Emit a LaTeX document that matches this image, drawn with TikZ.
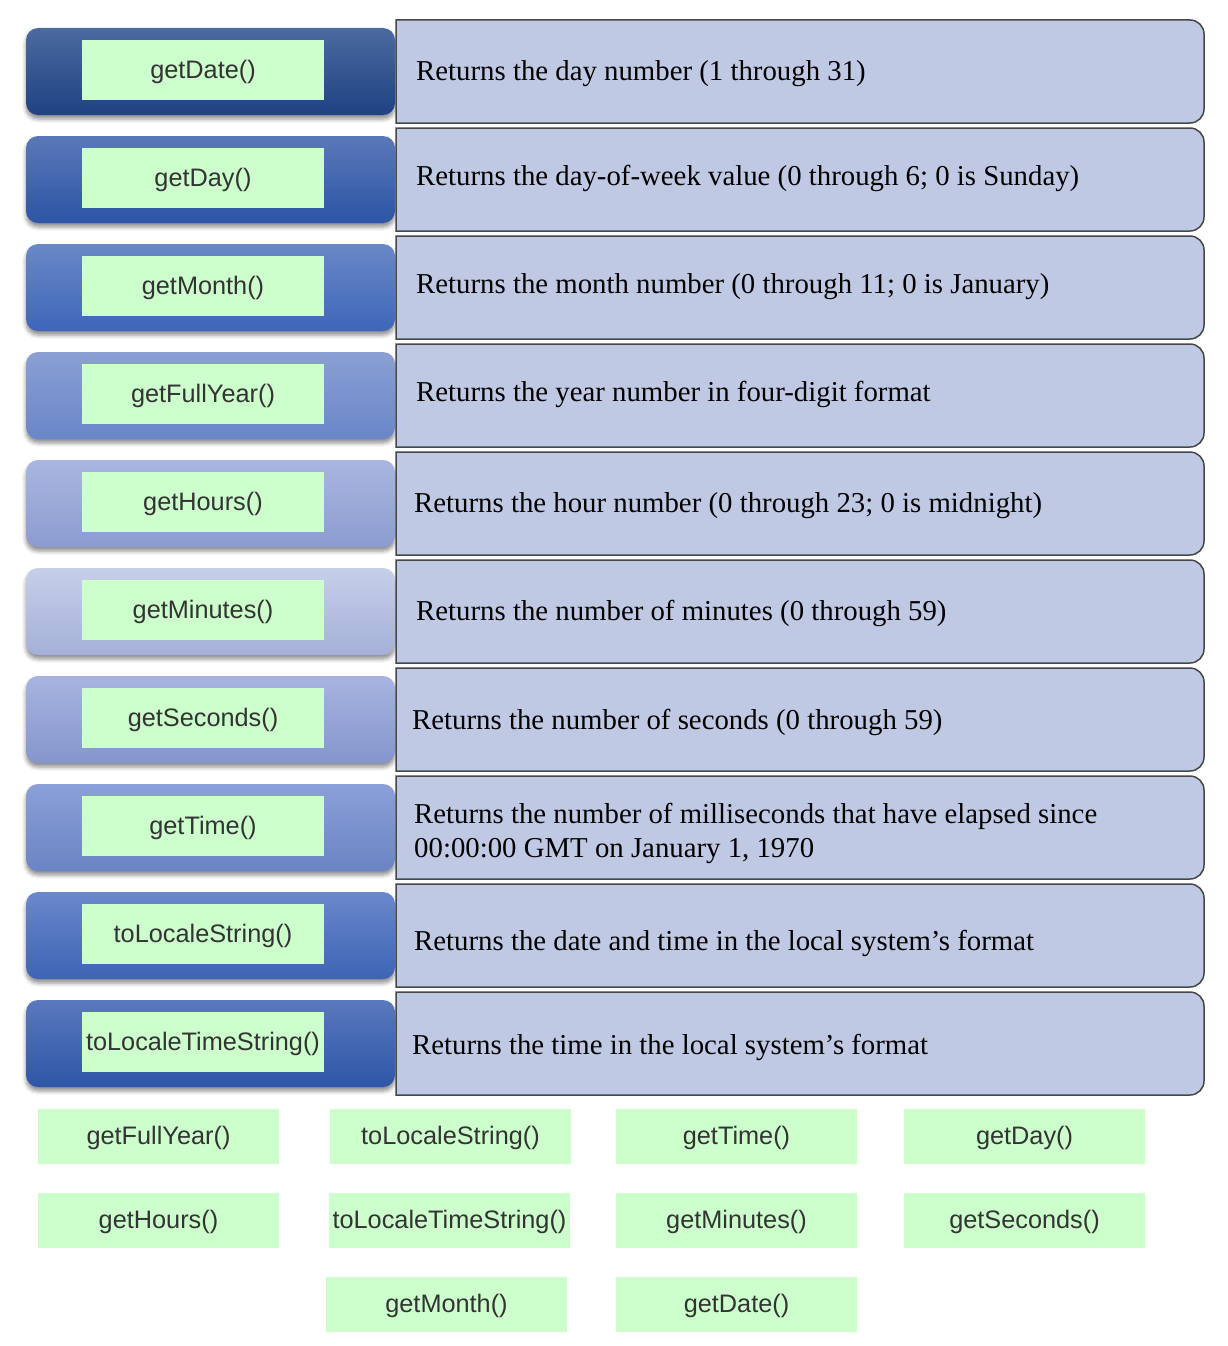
\documentclass[tikz,border=0pt]{standalone}
\usepackage{fontspec}
\setmainfont{Liberation Serif}
\newfontfamily\btnfont{Liberation Sans}
\usetikzlibrary{calc}
\usetikzlibrary{shadows.blur}
\definecolor{tilegreen}{HTML}{CCFFCC}
\definecolor{tiletext}{HTML}{333333}
\definecolor{descfill}{HTML}{BFC9E4}
\definecolor{descline}{HTML}{474747}

\tikzset{
 btn/.style={rounded corners=12pt, minimum width=369pt, minimum height=87pt, inner sep=0pt,
  blur shadow={shadow xshift=0pt, shadow yshift=-4pt, shadow blur radius=4pt, shadow opacity=45}},
 tile/.style={fill=tilegreen, minimum width=241pt, minimum height=55pt, inner sep=0pt,
  text height=21pt, text depth=4pt, text=tiletext, font=\btnfont\fontsize{25.3}{29}\selectfont},
 descbox/.style={fill=descfill, draw=descline, line width=1.5pt},
 desc/.style={anchor=west, align=left, inner sep=0pt, font=\fontsize{28.8}{34}\selectfont},
}

\begin{document}
\begin{tikzpicture}[x=1pt,y=1pt]
\useasboundingbox (0,0) rectangle (1228,-1346);
\foreach \i/\fname/\ctop/\cbot/\dx/\dy/\dtext in {
 0/getDate()/4B6AA0/1E4282/416/54/{Returns the day number (1 through 31)},
 1/getDay()/5A78B8/2C55A5/416/50/{Returns the day-of-week value (0 through 6; 0 is Sunday)},
 2/getMonth()/6A88C8/3E66B8/416/51/{Returns the month number (0 through 11; 0 is January)},
 3/getFullYear()/8AA0D4/6A86C8/416/50/{Returns the year number in four-digit format},
 4/getHours()/AAB6E0/8C9CD0/414/54/{Returns the hour number (0 through 23; 0 is midnight)},
 5/getMinutes()/C6CFE9/A4B0D8/416/53/{Returns the number of minutes (0 through 59)},
 6/getSeconds()/A8B4E0/8496CC/412/54/{Returns the number of seconds (0 through 59)},
 7/getTime()/8AA0D8/6A84C4/414/57/{Returns the number of milliseconds that have elapsed since\\00:00:00 GMT on January 1, 1970},
 8/toLocaleString()/6A88CC/3E64B4/414/59/{Returns the date and time in the local system's format},
 9/toLocaleTimeString()/5A78BE/2E56A6/412/55/{Returns the time in the local system's format}
}{
 \pgfmathsetmacro\t{20+108*\i}
 \definecolor{ctop}{HTML}{\ctop}
 \definecolor{cbot}{HTML}{\cbot}
 \node[btn, top color=ctop, bottom color=cbot] (btn\i) at (210.5,-\t-51.5) {};
 \node[tile, minimum width=242pt, minimum height=60pt] (fn\i) at (203,-\t-50) {\fname};
 \draw[descbox] (396,-\t) -- (1190,-\t) arc[start angle=90, end angle=0, radius=14]
  -- (1204,-\t-89) arc[start angle=0, end angle=-90, radius=14] -- (396,-\t-103) -- cycle;
 \node[desc] (desc\i) at (\dx,-\t-\dy) {\dtext};
}
\foreach \n/\x/\y/\lbl in {
 tileYear/158.5/1136/getFullYear(), tileLocale/450.5/1136/toLocaleString(),
 tileTime/736.5/1136/getTime(), tileDay/1024.5/1136/getDay(),
 tileHours/158.5/1220/getHours(), tileLocaleTime/449.5/1220/toLocaleTimeString(),
 tileMinutes/736.5/1220/getMinutes(), tileSeconds/1024.5/1220/getSeconds(),
 tileMonth/446.5/1304/getMonth(), tileDate/736.5/1304/getDate()
}{
 \node[tile] (\n) at (\x,-\y) {\lbl};
}
\end{tikzpicture}
\end{document}
